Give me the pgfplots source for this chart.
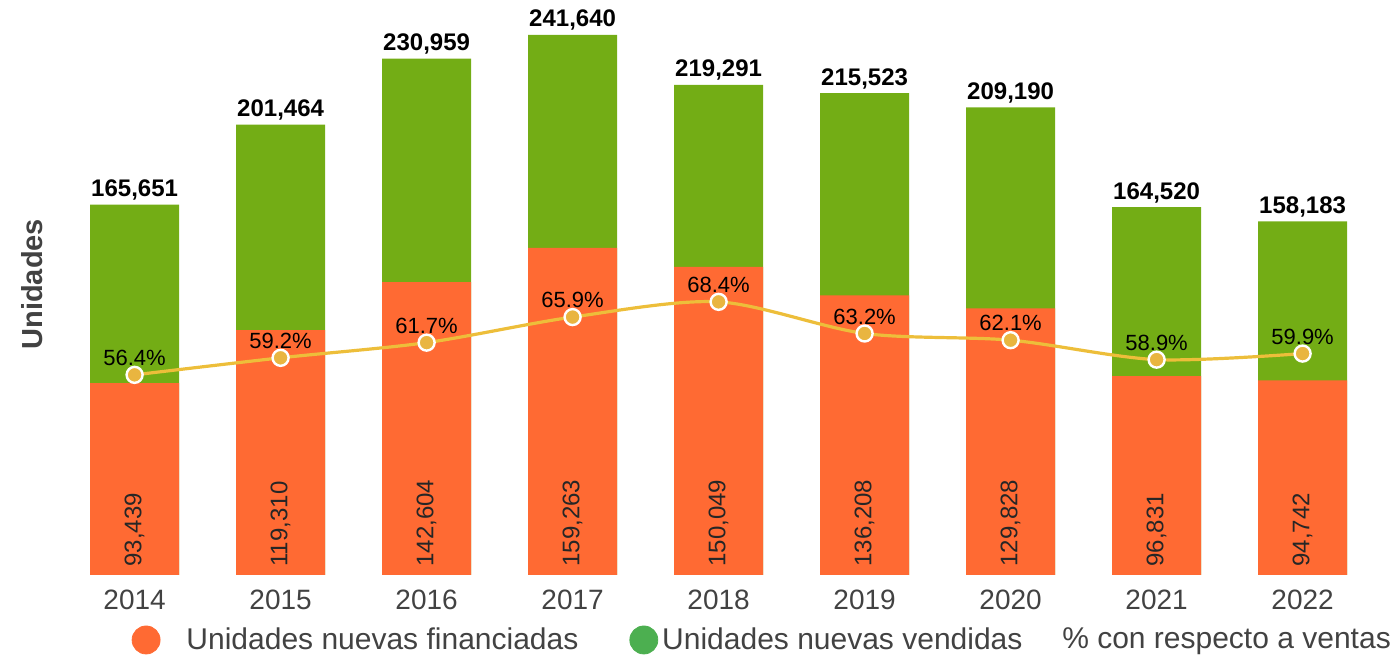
\documentclass[border=0pt]{standalone}
\usepackage{fontspec}
\setmainfont{Liberation Sans}
\usepackage{pgfplots}
\pgfplotsset{compat=1.18}
\definecolor{corange}{HTML}{FF6A33}
\definecolor{cgreen}{HTML}{73AD15}
\definecolor{clegreen}{HTML}{4CAF50}
\definecolor{cline}{HTML}{EDBE3A}
\definecolor{cmark}{HTML}{E9B540}
\definecolor{ctext}{HTML}{424242}
\begin{document}
\begin{tikzpicture}
\path[use as bounding box] (0,0) rectangle (698pt,331.5pt);
\pgfplotsset{base/.style={at={(23.5pt,44pt)}, anchor=south west, scale only axis,
  width=671.6pt, height=285pt, xmin=-0.6, xmax=8.6, clip=false}}
% green (total sold)
\begin{axis}[base, ymin=0, ymax=255000,
  axis line style={draw=none}, major tick length=0pt, ytick=\empty,
  xtick={0,1,2,3,4,5,6,7,8},
  xticklabels={2014,2015,2016,2017,2018,2019,2020,2021,2022},
  xticklabel style={font=\fontsize{14}{16}\selectfont, text=ctext, yshift=-4pt},
  ylabel={Unidades},
  ylabel style={font=\bfseries\fontsize{14.5}{16}\selectfont, text=ctext,
    at={(axis description cs:-0.011,0.51)}, anchor=center}]
\addplot[ybar, bar width=44.5pt, bar shift=0pt, fill=cgreen, draw=none,
  nodes near coords, point meta=explicit symbolic,
  nodes near coords style={font=\bfseries\fontsize{12}{14}\selectfont, text=black, anchor=south, inner sep=2pt}]
  table[meta=lab]{
x y lab
0 165651 {165,651}
1 201464 {201,464}
2 230959 {230,959}
3 241640 {241,640}
4 219291 {219,291}
5 215523 {215,523}
6 209190 {209,190}
7 164520 {164,520}
8 158183 {158,183}
};
\end{axis}
% orange (financed)
\begin{axis}[base, hide axis, ymin=0, ymax=277600]
\addplot[ybar, bar width=44.5pt, bar shift=0pt, fill=corange, draw=none]
  table{
x y
0 93439
1 119310
2 142604
3 159263
4 150049
5 136208
6 129828
7 96831
8 94742
};
\addplot[draw=none, mark=none, nodes near coords, point meta=explicit symbolic,
  nodes near coords style={rotate=90, anchor=west, inner sep=0pt, font=\fontsize{12}{14}\selectfont, text=black!85}]
  table[meta=lab]{
x y lab
0 3900 {93,439}
1 3900 {119,310}
2 3900 {142,604}
3 3900 {159,263}
4 3900 {150,049}
5 3900 {136,208}
6 3900 {129,828}
7 3900 {96,831}
8 3900 {94,742}
};
\end{axis}
% percentage line
\begin{axis}[base, hide axis, ymin=23.5, ymax=117.2,
  legend columns=3,
  legend style={at={(axis description cs:1.0082,-0.114)}, anchor=east, draw=none, fill=none,
    font=\fontsize{15}{18}\selectfont, text=ctext,
    /tikz/column 2/.style={column sep=23.5pt},
    /tikz/column 4/.style={column sep=13.5pt}}]
\addplot[forget plot, cline, line width=1.6pt, smooth, mark=*,
  mark options={fill=cmark, draw=white, line width=1.2pt}, mark size=4pt,
  nodes near coords, point meta=explicit symbolic,
  nodes near coords style={font=\fontsize{11}{13}\selectfont, text=black, anchor=base, yshift=4.6pt}]
  table[meta=lab]{
x y lab
0 56.4 {56.4\%}
1 59.2 {59.2\%}
2 61.7 {61.7\%}
3 65.9 {65.9\%}
4 68.4 {68.4\%}
5 63.2 {63.2\%}
6 62.1 {62.1\%}
7 58.9 {58.9\%}
8 59.9 {59.9\%}
};
\addlegendimage{legend image code/.code={\fill[corange] (0pt,0pt) circle (7pt); \path (-7pt,0pt) (18pt,0pt);}}
\addlegendentry{Unidades nuevas financiadas}
\addlegendimage{legend image code/.code={\fill[clegreen] (0pt,0pt) circle (7pt); \path (-7pt,0pt) (7pt,0pt);}}
\addlegendentry{Unidades nuevas vendidas}
\addlegendimage{legend image code/.code={\path (0pt,0pt) (2pt,0pt);}}
\addlegendentry{\% con respecto a ventas}
\end{axis}
\end{tikzpicture}
\end{document}
